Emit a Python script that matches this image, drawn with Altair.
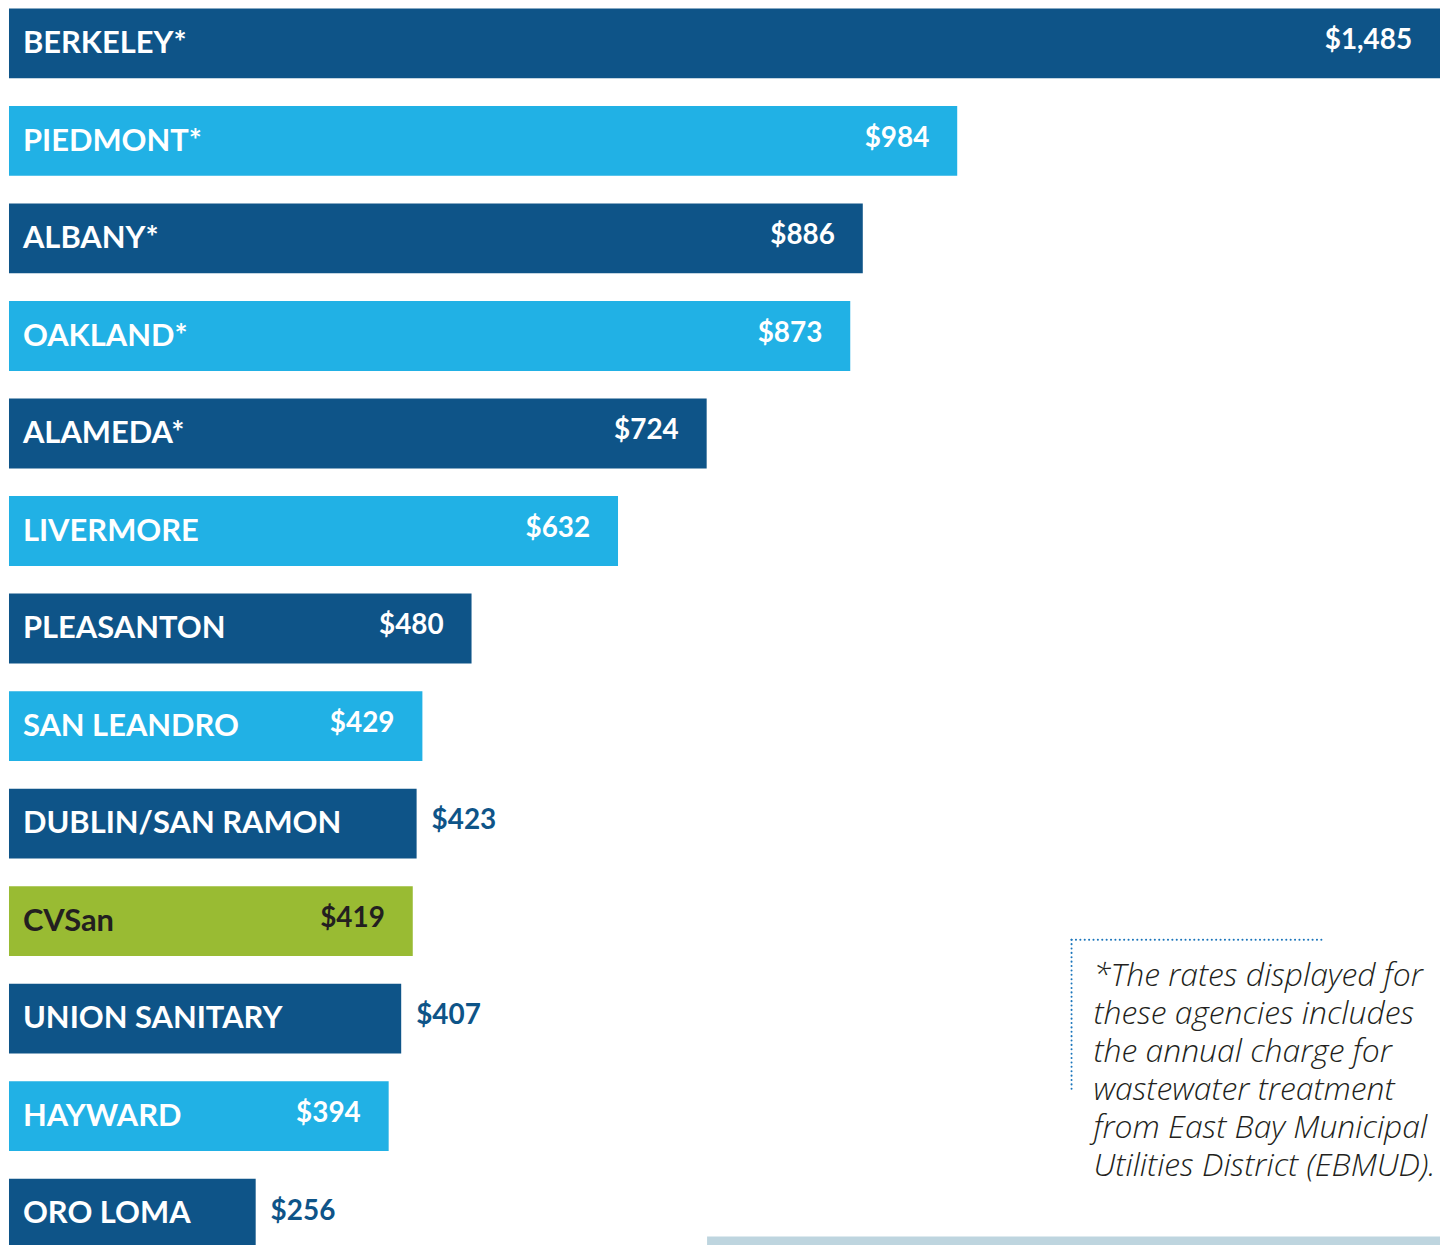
import altair as alt
import pandas as pd

agencies = ["BERKELEY*", "PIEDMONT*", "ALBANY*", "OAKLAND*", "ALAMEDA*", "LIVERMORE",
            "PLEASANTON", "SAN LEANDRO", "DUBLIN/SAN RAMON", "CVSan", "UNION SANITARY",
            "HAYWARD", "ORO LOMA"]
rates = [1485, 984, 886, 873, 724, 632, 480, 429, 423, 419, 407, 394, 256]
groups = ["dark", "light", "dark", "light", "dark", "light", "dark", "light", "dark",
          "green", "dark", "light", "dark"]
value_inside = [True, True, True, True, True, True, True, True, False, True, False, True, False]
footnote_lines = ["*The rates displayed for", "these agencies includes", "the annual charge for",
                  "wastewater treatment", "from East Bay Municipal", "Utilities District (EBMUD)."]

DARK = "#0e5488"
LIGHT = "#21b1e5"
GREEN = "#99bb33"
INK = "#231f20"

df = pd.DataFrame({
    "agency": agencies,
    "rate": rates,
    "group": groups,
    "inside": value_inside,
})
df["label"] = df["rate"].map(lambda v: f"${v:,}")
df["name_color"] = [INK if g == "green" else "white" for g in groups]
df["value_color"] = [INK if g == "green" else ("white" if ins else DARK)
                     for g, ins in zip(groups, value_inside)]

W, H = 1437, 1244
x_scale = alt.Scale(domain=[0, 1485], nice=False, zero=True)
y_enc = alt.Y("agency:N", sort=agencies, axis=None,
              scale=alt.Scale(paddingInner=0.2845, paddingOuter=0, round=False,
                              range=[-2, 1243]))

base = alt.Chart(df)

bars = base.mark_bar(cornerRadius=0).encode(
    x=alt.X("rate:Q", scale=x_scale, axis=None),
    y=y_enc,
    color=alt.Color("group:N", scale=alt.Scale(domain=["dark", "light", "green"],
                                                range=[DARK, LIGHT, GREEN]), legend=None),
)

names = base.mark_text(align="left", baseline="middle", dx=14, dy=1,
                       font="Lato", fontWeight="bold", fontSize=31).encode(
    x=alt.X("zero:Q", scale=x_scale, axis=None),
    y=y_enc,
    text="agency:N",
    color=alt.Color("name_color:N", scale=None),
).transform_calculate(zero="0")

vals_in = base.transform_filter("datum.inside").mark_text(
    align="right", baseline="middle", dx=-28, dy=-2,
    font="Lato", fontWeight="bold", fontSize=28).encode(
    x=alt.X("rate:Q", scale=x_scale, axis=None),
    y=y_enc,
    text="label:N",
    color=alt.Color("value_color:N", scale=None),
)

vals_out = base.transform_filter("!datum.inside").mark_text(
    align="left", baseline="middle", dx=15, dy=-2,
    font="Lato", fontWeight="bold", fontSize=28).encode(
    x=alt.X("rate:Q", scale=x_scale, axis=None),
    y=y_enc,
    text="label:N",
    color=alt.Color("value_color:N", scale=None),
)

note_df = pd.DataFrame({"note": ["\n".join(footnote_lines)]})
note = alt.Chart(note_df).mark_text(
    align="left", baseline="alphabetic", lineBreak="\n", lineHeight=38.2,
    font="Open Sans", fontStyle="italic", fontWeight=300, fontSize=32, color=INK).encode(
    x=alt.value(1089), y=alt.value(979), text="note:N")

dot_df = pd.DataFrame({"k": [0]})
dot_top = alt.Chart(dot_df).mark_rule(
    color="#1a75bb", strokeWidth=2, strokeDash=[0.1, 4.3], strokeCap="round").encode(
    x=alt.value(1067), x2=alt.value(1322), y=alt.value(933), y2=alt.value(933))
dot_left = alt.Chart(dot_df).mark_rule(
    color="#1a75bb", strokeWidth=2, strokeDash=[0.1, 4.3], strokeCap="round").encode(
    x=alt.value(1067), x2=alt.value(1067), y=alt.value(933), y2=alt.value(1087))

strip = alt.Chart(dot_df).mark_rect(color="#bed5df").encode(
    x=alt.value(701), x2=alt.value(1440), y=alt.value(1231), y2=alt.value(1245))

chart = alt.layer(bars, names, vals_in, vals_out, note, dot_top, dot_left, strip).properties(
    width=W, height=H,
    padding={"left": 1, "top": 0, "right": 0, "bottom": 0},
    autosize=alt.AutoSizeParams(type="none"),
).configure_view(strokeWidth=0)

chart.save("out.html", embed_options={"renderer": "svg", "actions": False})
